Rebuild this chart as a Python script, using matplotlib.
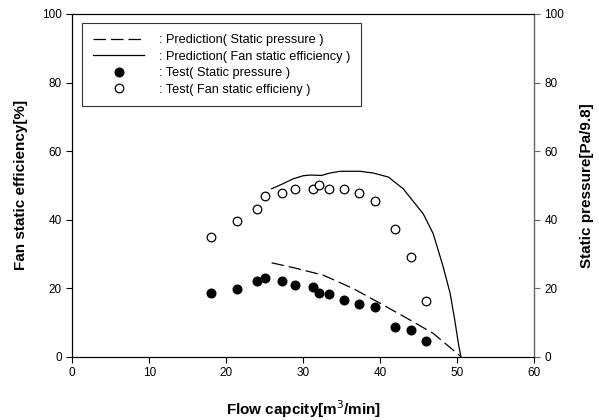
import matplotlib
matplotlib.use("Agg")
import matplotlib.pyplot as plt
from matplotlib.lines import Line2D

plt.rcParams['font.family'] = ['Liberation Sans', 'DejaVu Sans']

# Test data
test_flow = [18.0, 21.4, 24.0, 25.0, 27.3, 29.0, 31.3, 32.0, 33.3, 35.3, 37.3, 39.3, 42.0, 44.0, 46.0]
test_eff = [35.0, 39.7, 43.2, 46.8, 47.9, 49.0, 49.0, 50.2, 49.0, 49.0, 47.7, 45.5, 37.3, 29.2, 16.3]
test_press = [18.6, 19.9, 22.0, 23.1, 22.0, 21.0, 20.3, 18.7, 18.2, 16.5, 15.3, 14.4, 8.8, 7.7, 4.5]

# Prediction curves
pred_eff_flow = [25.9, 27.4, 28.7, 30.0, 30.9, 32.4, 33.5, 34.8, 37.4, 39.1, 41.1, 41.7, 43.0,
                 45.6, 46.9, 48.2, 49.1, 49.7, 50.2, 50.5]
pred_eff = [49.0, 50.5, 51.9, 52.8, 53.0, 52.9, 53.6, 54.1, 54.1, 53.6, 52.4, 51.3, 49.0,
            41.7, 35.9, 26.2, 18.5, 10.7, 3.5, 0.0]
pred_press_flow = [25.9, 28.7, 32.6, 36.5, 40.4, 43.9, 46.9, 50.0, 50.5]
pred_press = [27.4, 26.0, 23.8, 19.9, 15.1, 10.7, 6.8, 1.0, 0.0]

x_ticks = [0, 10, 20, 30, 40, 50, 60]
y_ticks = [0, 20, 40, 60, 80, 100]

fig = plt.figure(figsize=(5.99, 4.20), dpi=100)
ax = fig.add_axes([0.1207, 0.1507, 0.7708, 0.816])

ax.plot(pred_press_flow, pred_press, color='black', lw=0.9, dashes=[10, 4])
ax.plot(pred_eff_flow, pred_eff, color='black', lw=0.9)
ax.plot(test_flow, test_press, 'o', color='black', ms=6.2, mec='black')
ax.plot(test_flow, test_eff, 'o', mfc='white', mec='black', ms=6.2, mew=0.9)

ax.set_xlim(0, 60)
ax.set_ylim(0, 100)
ax.set_xticks(x_ticks)
ax.set_yticks(y_ticks)
ax.tick_params(axis='both', direction='out', labelsize=8.5, length=4, width=0.8, top=False)
for s in ax.spines.values():
    s.set_linewidth(0.8)

ax.set_xlabel('Flow capcity[m$^{3}$/min]', fontsize=11, fontweight='bold', labelpad=14)
ax.set_ylabel('Fan static efficiency[%]', fontsize=11, fontweight='bold', labelpad=10)

ax2 = ax.twinx()
ax2.set_ylim(0, 100)
ax2.set_yticks(y_ticks)
ax2.tick_params(axis='y', direction='out', labelsize=8.5, length=4, width=0.8, color='#666666')
ax2.spines['right'].set_color('#666666')
ax2.spines['right'].set_linewidth(0.9)
ax2.set_ylabel('Static pressure[Pa/9.8]', fontsize=11, fontweight='bold', labelpad=11)

handles = [
    Line2D([], [], color='black', lw=0.9, dashes=[10, 4]),
    Line2D([], [], color='black', lw=0.9),
    Line2D([], [], ls='none', marker='o', color='black', ms=6.2),
    Line2D([], [], ls='none', marker='o', mfc='white', mec='black', ms=6.2, mew=0.9),
]
labels = [': Prediction( Static pressure )',
          ': Prediction( Fan static efficiency )',
          ': Test( Static pressure )',
          ': Test( Fan static efficieny )']
leg = ax.legend(handles, labels, loc='upper left', bbox_to_anchor=(0.022, 0.973),
                fontsize=9.2, frameon=True, fancybox=False, edgecolor='black',
                handlelength=4.0, handletextpad=1.15, labelspacing=0.35,
                borderpad=0.85, borderaxespad=0)
leg.get_frame().set_linewidth(0.8)

fig.savefig('out.png', dpi=100)
